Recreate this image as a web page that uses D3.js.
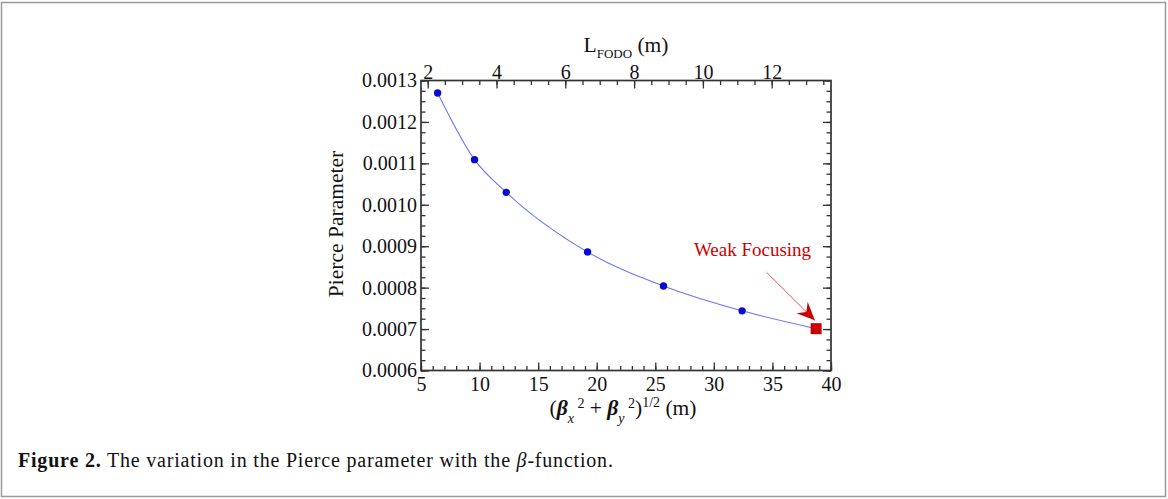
<!DOCTYPE html>
<html>
<head>
<meta charset="UTF-8">
<script src="https://cdn.jsdelivr.net/npm/d3@7"></script>
<style>
  body { margin: 0; background: #fff; }
  svg text { font-family: "Liberation Serif", "Times New Roman", serif; fill: #111; }
  .tick text { font-size: 20px; }
  .tick line { stroke: #333; stroke-width: 1.3; }
</style>
</head>
<body>
<svg width="1168" height="499"></svg>
<script>
// data
var betaValues = [6.42, 9.57, 12.28, 19.22, 25.7, 32.41, 38.73];
var pierceValues = [0.00127, 0.001109, 0.00103, 0.000886, 0.000804, 0.000744, 0.000701];
var weakIndex = 6; // last point = weak focusing
var xTicks = [5, 10, 15, 20, 25, 30, 35, 40];
var yTicks = [0.0006, 0.0007, 0.0008, 0.0009, 0.0010, 0.0011, 0.0012, 0.0013];
var topTicks = [2, 4, 6, 8, 10, 12];

var svg = d3.select("svg");

// figure border
svg.append("rect")
    .attr("x", 1.5).attr("y", 2.5)
    .attr("width", 1164).attr("height", 494)
    .attr("fill", "none").attr("stroke", "#9a9a9a").attr("stroke-width", 1.5);

var pLeft = 421, pRight = 831, pTop = 80.5, pBottom = 370.5;

var x = d3.scaleLinear().domain([5, 40]).range([pLeft, pRight]);
var y = d3.scaleLinear().domain([0.0006, 0.0013]).range([pBottom, pTop]);
var xTop = d3.scaleLinear().domain([1.805, 13.724]).range([pLeft, pRight]);

var minorX = d3.range(5, 40.01, 1);
var minorY = d3.range(0, 29).map(function(i) { return 0.0006 + i * 0.000025; });
var minorTop = d3.range(2, 13.6, 0.5);

function minorAxis(axis, vals) {
    return axis.tickValues(vals).tickSize(-4.5).tickFormat("");
}

// minor ticks
svg.append("g").attr("transform", "translate(0," + pBottom + ")")
    .call(minorAxis(d3.axisBottom(x), minorX)).select(".domain").remove();
svg.append("g").attr("transform", "translate(0," + pTop + ")")
    .call(minorAxis(d3.axisTop(xTop), minorTop)).select(".domain").remove();
svg.append("g").attr("transform", "translate(" + pLeft + ",0)")
    .call(minorAxis(d3.axisLeft(y), minorY)).select(".domain").remove();
svg.append("g").attr("transform", "translate(" + pRight + ",0)")
    .call(minorAxis(d3.axisRight(y), minorY)).select(".domain").remove();

// major ticks + labels
svg.append("g").attr("transform", "translate(0," + pBottom + ")")
    .call(d3.axisBottom(x).tickValues(xTicks).tickSize(-8).tickPadding(6).tickFormat(d3.format("d")))
    .select(".domain").remove();
svg.append("g").attr("transform", "translate(0," + pTop + ")")
    .call(d3.axisTop(xTop).tickValues(topTicks).tickSize(-8).tickPadding(2).tickFormat(d3.format("d")))
    .select(".domain").remove();
svg.append("g").attr("transform", "translate(" + pLeft + ",0)")
    .call(d3.axisLeft(y).tickValues(yTicks).tickSize(-8).tickPadding(4).tickFormat(d3.format(".4f")))
    .select(".domain").remove();
svg.append("g").attr("transform", "translate(" + pRight + ",0)")
    .call(d3.axisRight(y).tickValues(yTicks).tickSize(-8).tickFormat(""))
    .select(".domain").remove();

svg.selectAll(".tick text").attr("fill", "#111").attr("font-family", null);

// frame
svg.append("rect")
    .attr("x", pLeft).attr("y", pTop)
    .attr("width", pRight - pLeft).attr("height", pBottom - pTop)
    .attr("fill", "none").attr("stroke", "#333").attr("stroke-width", 1.7);

// curve
var pts = betaValues.map(function(b, i) { return [b, pierceValues[i]]; });
var line = d3.line()
    .x(function(d) { return x(d[0]); })
    .y(function(d) { return y(d[1]); })
    .curve(d3.curveMonotoneX);
svg.append("path")
    .datum(pts)
    .attr("d", line)
    .attr("fill", "none")
    .attr("stroke", "#6a78f2")
    .attr("stroke-width", 1.1);

svg.selectAll(".pt")
    .data(pts.filter(function(d, i) { return i !== weakIndex; }))
    .enter().append("circle")
    .attr("cx", function(d) { return x(d[0]); })
    .attr("cy", function(d) { return y(d[1]); })
    .attr("r", 3.7)
    .attr("fill", "#0a0ad2");

var wk = pts[weakIndex];
svg.append("rect")
    .attr("x", x(wk[0]) - 5.5).attr("y", y(wk[1]) - 5.5)
    .attr("width", 11).attr("height", 11)
    .attr("fill", "#cc0000");

// annotation arrow
svg.append("defs").append("marker")
    .attr("id", "head")
    .attr("viewBox", "-20 -10 22 20")
    .attr("refX", 0).attr("refY", 0)
    .attr("markerWidth", 22).attr("markerHeight", 20)
    .attr("markerUnits", "userSpaceOnUse")
    .attr("orient", "auto")
    .append("path")
    .attr("d", "M0,0 L-18,-8 L-12,0 L-18,8 Z")
    .attr("fill", "#cc0000");

svg.append("line")
    .attr("x1", x(34.5)).attr("y1", y(0.000837))
    .attr("x2", x(38.62)).attr("y2", y(0.000721))
    .attr("stroke", "#e05050").attr("stroke-width", 1)
    .attr("marker-end", "url(#head)");

svg.append("text")
    .attr("x", x(38.3)).attr("y", y(0.000877))
    .attr("text-anchor", "end")
    .attr("font-size", "19px")
    .style("fill", "#cc0000")
    .text("Weak Focusing");

// axis titles
svg.append("text")
    .attr("transform", "translate(343,224) rotate(-90)")
    .attr("text-anchor", "middle")
    .attr("font-size", "21.5px")
    .text("Pierce Parameter");

var tt = svg.append("text")
    .attr("x", 626).attr("y", 52)
    .attr("text-anchor", "middle")
    .attr("font-size", "21.5px");
tt.append("tspan").text("L");
tt.append("tspan").attr("font-size", "13px").attr("dy", 6).text("FODO");
tt.append("tspan").attr("dy", -6).text(" (m)");

var bt = svg.append("text")
    .attr("x", 623).attr("y", 415)
    .attr("text-anchor", "middle")
    .attr("font-size", "21.5px");
bt.append("tspan").text("(");
bt.append("tspan").attr("font-style", "italic").attr("font-weight", "bold").text("β");
bt.append("tspan").attr("font-size", "14px").attr("font-style", "italic").attr("dy", 8).text("x");
bt.append("tspan").attr("font-size", "14px").attr("dy", -15).text(" 2");
bt.append("tspan").attr("dy", 7).text(" + ");
bt.append("tspan").attr("font-style", "italic").attr("font-weight", "bold").text("β");
bt.append("tspan").attr("font-size", "14px").attr("font-style", "italic").attr("dy", 8).text("y");
bt.append("tspan").attr("font-size", "14px").attr("dy", -15).text(" 2");
bt.append("tspan").attr("dy", 7).text(")");
bt.append("tspan").attr("font-size", "14px").attr("dy", -8).text("1/2");
bt.append("tspan").attr("dy", 8).text(" (m)");

// caption
var cap = svg.append("text")
    .attr("x", 18).attr("y", 467)
    .attr("font-size", "20px")
    .attr("letter-spacing", "0.8px");
cap.append("tspan").attr("font-weight", "bold").text("Figure 2.");
cap.append("tspan").text(" The variation in the Pierce parameter with the ");
cap.append("tspan").attr("font-style", "italic").text("β");
cap.append("tspan").text("-function.");
</script>
</body>
</html>
